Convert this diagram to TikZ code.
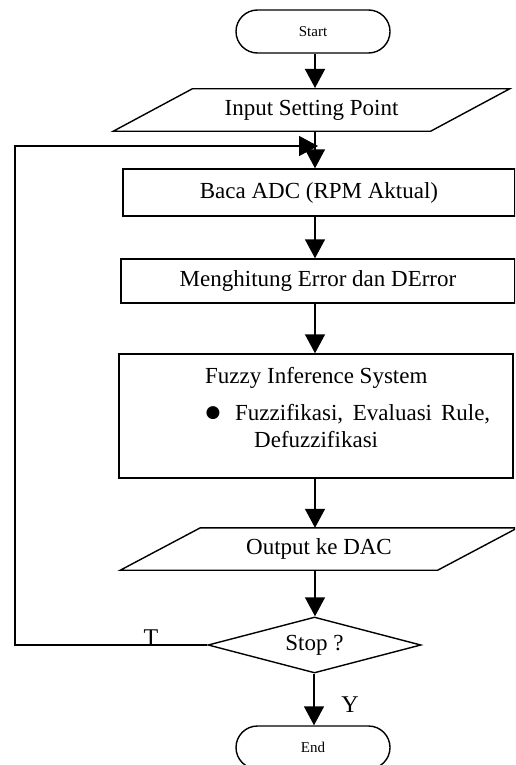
\documentclass[tikz,border=0pt]{standalone}
\usepackage{fontspec}
\setmainfont{Liberation Serif}
\newfontfamily\symfont{DejaVu Sans}
\usetikzlibrary{shapes.geometric,shapes.misc,arrows.meta}
\begin{document}
\begin{tikzpicture}[x=1pt,y=-1pt,
  every node/.style={inner sep=0pt},
  arr/.style={line width=1.4pt,-{Triangle[length=19pt,width=20pt]}},
  term/.style={draw,line width=1.4pt,rounded rectangle,minimum width=154pt,minimum height=43pt,font=\fontsize{15}{18}\selectfont},
  io/.style={rectangle,minimum width=317pt,minimum height=42pt,font=\fontsize{23}{27}\selectfont},
  ioline/.style={line width=1.4pt},
  proc/.style={draw,line width=1.4pt,rectangle,font=\fontsize{23}{27}\selectfont},
  dec/.style={draw,line width=1.4pt,diamond,minimum width=213pt,minimum height=56pt},
  txt/.style={font=\fontsize{23}{27}\selectfont},
  lbl/.style={font=\fontsize{24}{28}\selectfont}
]
\clip (0,0) rectangle (515,765);
\node[term] (start) at (313,31.5) {Start};
\node[io] (in) at (311.5,110) {Input Setting Point};
\draw[ioline] ([xshift=39.5pt]in.north west) -- ([xshift=39.5pt]in.north east) -- ([xshift=-39.5pt]in.south east) -- ([xshift=-39.5pt]in.south west) -- cycle;
\node[proc,minimum width=392pt,minimum height=47pt] (baca) at (319,192.5) {Baca ADC (RPM Aktual)};
\node[proc,minimum width=394pt,minimum height=44pt] (hit) at (318,281) {Menghitung Error dan DError};
\node[proc,minimum width=394pt,minimum height=124pt] (fis) at (316,416) {};
\node[txt,anchor=base west] (fis1) at (205,383) {Fuzzy Inference System};
\node[anchor=base,font=\symfont\fontsize{17}{20}\selectfont] (bul) at (213,417) {●};
\node[txt,anchor=base west] (fis2) at (235,420) {\makebox[255pt][s]{Fuzzifikasi, Evaluasi Rule,}};
\node[txt,anchor=base west] (fis3) at (254,447) {Defuzzifikasi};
\node[io] (out) at (319,549) {Output ke DAC};
\draw[ioline] ([xshift=40pt]out.north west) -- ([xshift=40pt]out.north east) -- ([xshift=-40pt]out.south east) -- ([xshift=-40pt]out.south west) -- cycle;
\node[dec] (stop) at (314.5,645) {};
\node[txt] (stoptxt) at (stop.center) {Stop ?};
\node[term] (end) at (313,747.5) {End};
\coordinate (fbl) at (15,645);
\coordinate (fbt) at (15,146);
\coordinate (fbe) at (318,146);
\node[lbl,anchor=base] (T) at (151,645) {T};
\node[lbl,anchor=base] (Y) at (350,712) {Y};
\draw[arr] (start.south -| 315,0) -- (315,88);
\draw[arr] (in.south -| 315,0) -- (baca.north -| 315,0);
\draw[arr] (baca.south -| 315,0) -- (hit.north -| 315,0);
\draw[arr] (hit.south -| 315,0) -- (fis.north -| 315,0);
\draw[arr] (fis.south -| 315,0) -- (out.north -| 315,0);
\draw[arr] (out.south -| 315,0) -- (stop.north -| 315,0);
\draw[arr] (stop.south -| 314,0) -- (end.north -| 314,0);
\draw[arr] (stop.west) -- (fbl) -- (fbt) -- (fbe);
\end{tikzpicture}
\end{document}
